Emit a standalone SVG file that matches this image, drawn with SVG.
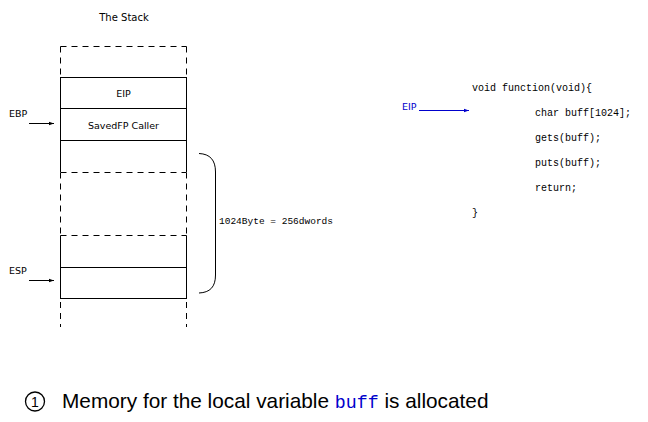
<svg xmlns="http://www.w3.org/2000/svg" width="648" height="422" viewBox="0 0 648 422">
<defs>
<style>
.sans{font-family:"DejaVu Sans","Liberation Sans",sans-serif;fill:#000}
.mono{font-family:"Liberation Mono","DejaVu Sans Mono",monospace;fill:#000}
.solid{stroke:#000;stroke-width:1;fill:none}
.dash{stroke:#000;stroke-width:1;fill:none;stroke-dasharray:6,5}
</style>
<marker id="ah" viewBox="0 0 6 6" refX="6" refY="3" markerWidth="5" markerHeight="5" orient="auto"><path d="M0,1 L6,3 L0,5 z" fill="#000"/></marker>
<marker id="ahb" viewBox="0 0 6 6" refX="6" refY="3" markerWidth="5" markerHeight="5" orient="auto"><path d="M0,1 L6,3 L0,5 z" fill="#0000cc"/></marker>
</defs>
<rect width="648" height="422" fill="#fff"/>
<text class="sans" x="124" y="21" font-size="10" text-anchor="middle">The Stack</text>
<g id="stack-top">
<path class="dash" d="M60.5,46.5 H186.5"/>
<path class="dash" d="M60.5,46.5 V77 M186.5,46.5 V77"/>
</g>
<g id="eip-box">
<rect class="solid" x="60.5" y="77.5" width="126" height="31"/>
<text class="sans" x="123.5" y="97" font-size="9.5" text-anchor="middle">EIP</text>
</g>
<g id="savedfp-box">
<rect class="solid" x="60.5" y="108.5" width="126" height="32"/>
<text class="sans" x="123.5" y="129" font-size="9.5" text-anchor="middle">SavedFP Caller</text>
</g>
<g id="buff-top">
<path class="solid" d="M60.5,140.5 H186.5 M60.5,140.5 V172 M186.5,140.5 V172"/>
<path class="dash" d="M60.5,172.5 H186.5"/>
</g>
<g id="buff-middle">
<path class="dash" d="M60.5,172.5 V235 M186.5,172.5 V235"/>
</g>
<g id="buff-low">
<path class="dash" d="M60.5,235.5 H186.5"/>
<path class="solid" d="M60.5,235.5 V267.5 M186.5,235.5 V267.5 M60.5,267.5 H186.5"/>
</g>
<g id="esp-box">
<rect class="solid" x="60.5" y="267.5" width="126" height="31"/>
</g>
<g id="stack-bottom">
<path class="dash" d="M60.5,302 V327 M186.5,302 V327"/>
</g>
<g id="brace">
<path class="solid" d="M199,153.5 C210,154 215.5,160 215.5,172 V275 C215.5,287 210,292.5 199,293"/>
<text class="mono" x="219" y="224" font-size="9.5">1024Byte = 256dwords</text>
</g>
<g id="labels">
<text class="sans" x="9" y="117" font-size="9.5">EBP</text>
<text class="sans" x="9" y="274" font-size="9.5">ESP</text>
<text class="sans" x="402" y="110" font-size="9.5" fill="#0000cc" style="fill:#0000cc">EIP</text>
</g>
<g id="code">
<text class="mono" x="472" y="91" font-size="10">void function(void){</text>
<text class="mono" x="535" y="116" font-size="10">char buff[1024];</text>
<text class="mono" x="535" y="141" font-size="10">gets(buff);</text>
<text class="mono" x="535" y="166" font-size="10">puts(buff);</text>
<text class="mono" x="535" y="191" font-size="10">return;</text>
<text class="mono" x="472" y="216" font-size="10">}</text>
</g>
<g id="connectors">
<line x1="29" y1="123.5" x2="54" y2="123.5" stroke="#000" stroke-width="1" marker-end="url(#ah)"/>
<line x1="29" y1="280.5" x2="54" y2="280.5" stroke="#000" stroke-width="1" marker-end="url(#ah)"/>
<line x1="419" y1="110.5" x2="469" y2="110.5" stroke="#0000cc" stroke-width="1" marker-end="url(#ahb)"/>
</g>
<g id="caption">
<circle cx="35" cy="401.5" r="9.5" fill="none" stroke="#000" stroke-width="1.3"/>
<text x="35" y="407" font-size="14" text-anchor="middle" font-family="'Liberation Sans',sans-serif">1</text>
<text x="62" y="408" font-size="20.8" font-family="'Liberation Sans',sans-serif">Memory for the local variable <tspan style="fill:#0000cc" font-family="'Liberation Mono',monospace" font-size="18.3">buff</tspan> is allocated</text>
</g>
</svg>
